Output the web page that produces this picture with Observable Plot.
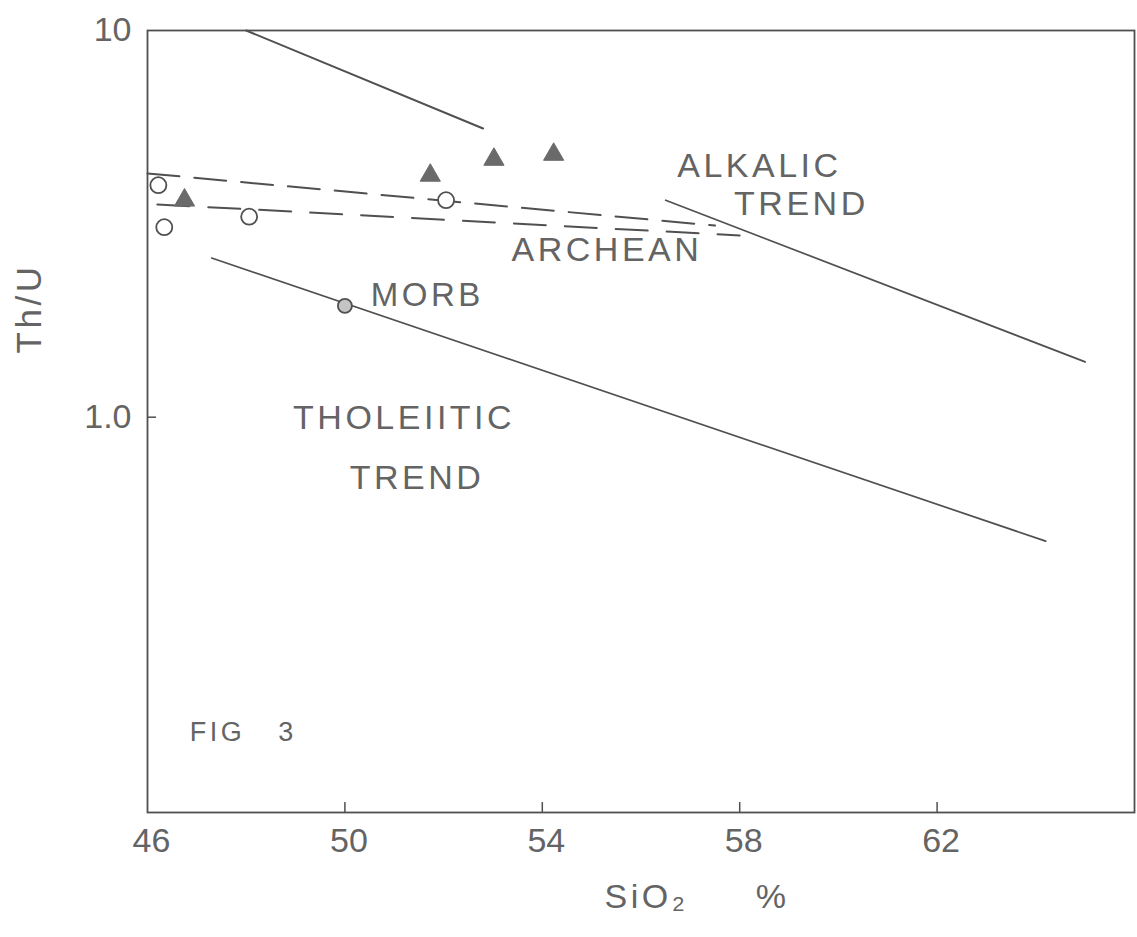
<!DOCTYPE html>
<html>
<head>
<meta charset="utf-8">
<script src="https://cdn.jsdelivr.net/npm/d3@7"></script>
<script src="https://cdn.jsdelivr.net/npm/@observablehq/plot@0.6"></script>
<style>
  body { margin: 0; background: #fff; }
</style>
</head>
<body>
<div id="chart"></div>
<script>
// ---- axis ticks ----
const xTicks = [46, 50, 54, 58, 62];
const yTicks = [1, 10];
const yTickLabels = ["1.0", "10"];

// ---- trend lines (SiO2 %, Th/U) ----
const alkalicUpperX = [48.0, 52.8];
const alkalicUpperY = [10, 5.58];
const alkalicLowerX = [56.5, 65.0];
const alkalicLowerY = [3.64, 1.39];
const tholeiiticX = [47.3, 64.2];
const tholeiiticY = [2.58, 0.478];
const archeanUpperX = [46.0, 57.5];
const archeanUpperY = [4.27, 3.13];
const archeanLowerX = [46.2, 58.0];
const archeanLowerY = [3.55, 2.95];

// ---- samples ----
const circleX = [46.22, 46.34, 48.06, 52.05];
const circleY = [3.98, 3.10, 3.30, 3.64];
const triangleX = [46.75, 51.73, 53.02, 54.23];
const triangleY = [3.64, 4.22, 4.64, 4.78];
const morbX = [50.0];
const morbY = [1.94];

// ---- annotations ----
const labelText = ["ALKALIC", "TREND", "ARCHEAN", "MORB", "THOLEIITIC", "TREND", "FIG\u00a0\u00a0\u00a03"];
const labelX = [58.40, 59.25, 55.31, 51.67, 51.20, 51.46, 47.94];
const labelY = [4.45, 3.55, 2.70, 2.07, 0.994, 0.696, 0.153];
const labelSize = [34, 34, 34, 33, 34, 34, 27];

const xAxisTitle = ["SiO\u2082", "%"];
const yAxisTitle = "Th/U";

const pts = (X, Y) => X.map((x, i) => ({x, y: Y[i]}));
const labels = labelText.map((t, i) => ({t, x: labelX[i], y: labelY[i], s: labelSize[i]}));

const ink = "#505050";
const textInk = "#646464";

const W = 1137, H = 937;
const mT = 30, mB = 125, mL = 147, mR = 3;

const chart = Plot.plot({
  width: W,
  height: H,
  marginTop: mT,
  marginBottom: mB,
  marginLeft: mL,
  marginRight: mR,
  style: {fontFamily: "'Liberation Sans', Arial, sans-serif", background: "#fff", color: textInk},
  x: {domain: [46, 66]},
  y: {type: "log", domain: [0.095, 10]},
  marks: [
    Plot.frame({stroke: ink, strokeWidth: 1.8}),
    // inward ticks
    Plot.tickX(xTicks.slice(1), {x: d => d, stroke: ink, strokeWidth: 1.5, insetTop: H - mT - mB - 10}),
    Plot.tickY(yTicks.slice(0, 1), {y: d => d, stroke: ink, strokeWidth: 1.5, insetRight: W - mL - mR - 9}),
    Plot.axisX(xTicks, {tickSize: 0, tickPadding: 15, fontSize: 34, fill: textInk, label: null, dx: 4}),
    Plot.axisY(yTicks, {tickSize: 0, tickPadding: 16, fontSize: 34, fill: textInk, label: null,
      tickFormat: d => yTickLabels[yTicks.indexOf(d)]}),
    // solid lines
    Plot.line(pts(alkalicUpperX, alkalicUpperY), {x: "x", y: "y", stroke: ink, strokeWidth: 2}),
    Plot.line(pts(alkalicLowerX, alkalicLowerY), {x: "x", y: "y", stroke: ink, strokeWidth: 1.7}),
    Plot.line(pts(tholeiiticX, tholeiiticY), {x: "x", y: "y", stroke: ink, strokeWidth: 1.7}),
    // dashed lines
    Plot.line(pts(archeanUpperX, archeanUpperY), {x: "x", y: "y", stroke: ink, strokeWidth: 2, strokeDasharray: "32,15"}),
    Plot.line(pts(archeanLowerX, archeanLowerY), {x: "x", y: "y", stroke: ink, strokeWidth: 2, strokeDasharray: "32,19"}),
    // samples
    Plot.dot(pts(circleX, circleY), {x: "x", y: "y", r: 8, stroke: ink, strokeWidth: 1.8, fill: "#fff"}),
    Plot.dot(pts(triangleX, triangleY), {x: "x", y: "y", r: 7.5, symbol: "triangle", fill: "#6a6a6a", stroke: "#6a6a6a", strokeWidth: 1}),
    Plot.dot(pts(morbX, morbY), {x: "x", y: "y", r: 7, stroke: ink, strokeWidth: 1.8, fill: "#c4c4c4"}),
    // annotations
    Plot.text(labels, {x: "x", y: "y", text: "t", fontSize: d => d.s, fill: textInk}),
    // axis titles
    Plot.text([yAxisTitle], {frameAnchor: "top-left", dx: 29 - mL, dy: 278, rotate: -90,
      textAnchor: "middle", lineAnchor: "middle", fontSize: 35, fill: textInk}),
    Plot.text([xAxisTitle[0]], {frameAnchor: "bottom-left", dx: 646 - mL, dy: 85,
      textAnchor: "middle", lineAnchor: "middle", fontSize: 34, fill: textInk}),
    Plot.text([xAxisTitle[1]], {frameAnchor: "bottom-left", dx: 772 - mL, dy: 85,
      textAnchor: "middle", lineAnchor: "middle", fontSize: 34, fill: textInk})
  ]
});

// hand-lettered look: widen letter spacing of the annotation texts
d3.select(chart).selectAll('g[aria-label="text"] text').attr("letter-spacing", "3.5px");
document.getElementById("chart").appendChild(chart);
</script>
</body>
</html>
